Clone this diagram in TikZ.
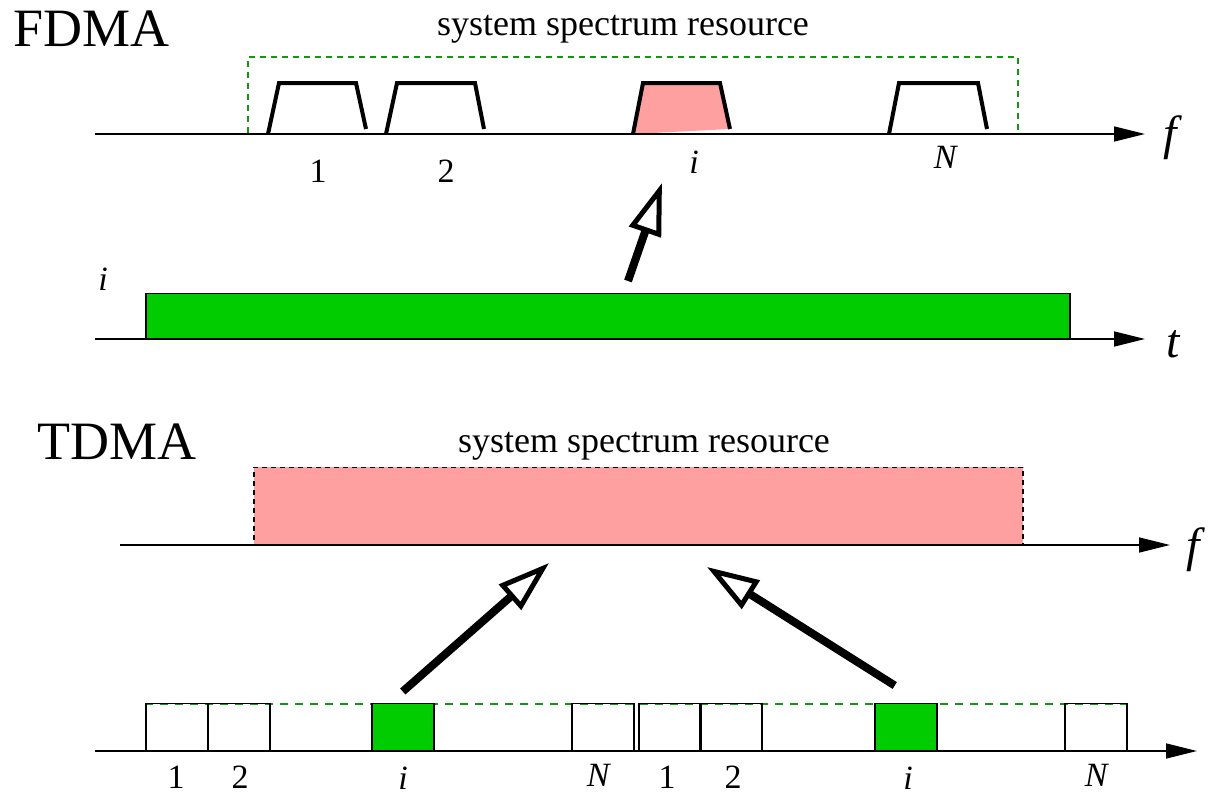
\documentclass[tikz,border=0pt]{standalone}
\usepackage{fontspec}
\setmainfont{Liberation Serif}[ItalicFont={Liberation Serif Italic}]
\usetikzlibrary{arrows.meta}

\definecolor{bandpink}{RGB}{255,160,160}
\definecolor{slotgreen}{RGB}{0,204,0}
\definecolor{dashgreen}{RGB}{20,150,20}

\begin{document}
\begin{tikzpicture}[x=1pt,y=-1pt,
  axis/.style={line width=1.6pt,-{Triangle[length=31pt,width=15pt]}},
  filt/.style={line width=4pt,line join=miter},
  bigarrow/.style={line width=8pt,
    -{Triangle[open,length=52pt,width=33pt,line width=5pt]}},
  slot/.style={draw,line width=1.5pt,minimum width=62pt,minimum height=47pt,
    inner sep=0pt,anchor=south west},
  greenslot/.style={slot,fill=slotgreen},
  title/.style={font=\fontsize{54}{54}\selectfont,inner sep=0pt,anchor=base west},
  caption/.style={font=\fontsize{36}{36}\selectfont,inner sep=0pt,anchor=base},
  lbl/.style={font=\fontsize{34}{34}\selectfont,inner sep=0pt},
  axlbl/.style={font=\fontsize{48}{48}\selectfont\itshape,inner sep=0pt}]

\useasboundingbox (0,0) rectangle (1211,793);

% ---------------- FDMA ----------------
\node[title] (fdma) at (13,46) {FDMA};
\node[caption] (cap1) at (623,35) {system spectrum resource};

% spectrum band boundary
\draw[dashgreen,line width=1.7pt,dash pattern=on 6pt off 5pt]
  (248,133) -- (248,57) -- (1018,57) -- (1018,133);

% pink channel fill
\fill[bandpink] (633,134) -- (643,83) -- (720,83) -- (730,129) -- cycle;

% frequency axis
\coordinate (fa0) at (95,134);
\coordinate (fa1) at (1145,134);
\draw[axis] (fa0) -- (fa1);
\node[axlbl] (flab1) at (1170,138) {f};

% channel filters
\draw[filt] (268,134) -- (279,83) -- (356,83) -- (366,129);
\draw[filt] (386,134) -- (397,83) -- (475,83) -- (484,129);
\draw[filt] (633,134) -- (643,83) -- (720,83) -- (730,129);
\draw[filt] (889,134) -- (899,83) -- (978,83) -- (987,129);

\node[lbl] (c1) at (318,171) {1};
\node[lbl] (c2) at (446,171) {2};
\node[lbl] (ci) at (694,162) {\textit{i}};
\node[lbl] (cN) at (946,157) {\textit{N}};

% user i occupies the whole time axis
\node[draw,fill=slotgreen,line width=1.5pt,minimum width=924pt,minimum height=45pt,
  inner sep=0pt,anchor=south west] (bar) at (145,339) {};
\node[lbl] (ui) at (103,279) {\textit{i}};
\coordinate (ta0) at (95,339);
\coordinate (ta1) at (1145,339);
\draw[axis] (ta0) -- (ta1);
\node[axlbl] (tlab1) at (1173,344) {t};

\coordinate (up0) at (628,281);
\coordinate (up1) at (662,183);
\draw[bigarrow] (up0) -- (up1);

% ---------------- TDMA ----------------
\node[title] (tdma) at (37,459) {TDMA};
\node[caption] (cap2) at (644,452) {system spectrum resource};

\node[draw,fill=bandpink,line width=1.5pt,dash pattern=on 5pt off 4pt,
  minimum width=769pt,minimum height=77pt,inner sep=0pt,anchor=south west]
  (band) at (253,545) {};
\coordinate (fb0) at (120,545);
\coordinate (fb1) at (1170,545);
\draw[axis] (fb0) -- (fb1);
\node[axlbl] (flab2) at (1193,550) {f};

% time axis with frames of slots
\coordinate (tb0) at (95,751);
\coordinate (tb1) at (1197,751);
\draw[axis] (tb0) -- (tb1);
\node[axlbl] (tlab2) at (1218,756) {t};

\draw[dashgreen,line width=1.5pt,dash pattern=on 8pt off 7pt] (145,704) -- (1126,704);

\node[slot] (s1a) at (145,751) {};
\node[slot] (s2a) at (207,751) {};
\node[greenslot] (sia) at (371,751) {};
\node[slot] (sNa) at (571,751) {};
\node[slot] (s1b) at (638,751) {};
\node[slot] (s2b) at (699,751) {};
\node[greenslot] (sib) at (874,751) {};
\node[slot] (sNb) at (1064,751) {};

\node[lbl] (l1a) at (176,777) {1};
\node[lbl] (l2a) at (240,777) {2};
\node[lbl] (lia) at (403,778) {\textit{i}};
\node[lbl] (lNa) at (599,775) {\textit{N}};
\node[lbl] (l1b) at (667,777) {1};
\node[lbl] (l2b) at (733,777) {2};
\node[lbl] (lib) at (908,778) {\textit{i}};
\node[lbl] (lNb) at (1097,775) {\textit{N}};

\coordinate (la0) at ([yshift=11pt]sia.north);
\coordinate (la1) at (549,563);
\draw[bigarrow] (la0) -- (la1);
\coordinate (ra0) at ([xshift=-11pt,yshift=17pt]sib.north);
\coordinate (ra1) at (707,567);
\draw[bigarrow] (ra0) -- (ra1);
\end{tikzpicture}
\end{document}
